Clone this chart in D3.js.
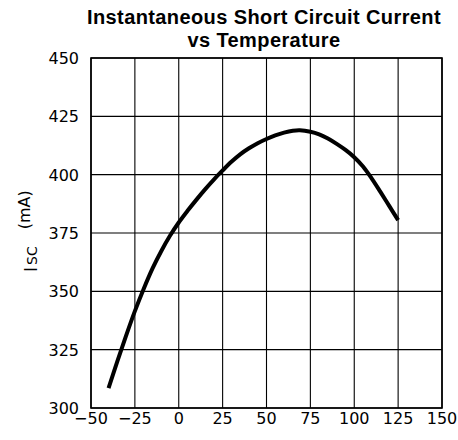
<!DOCTYPE html>
<html>
<head>
<meta charset="utf-8">
<script src="https://cdn.jsdelivr.net/npm/d3@7"></script>
<style>
  html, body { margin: 0; padding: 0; background: #fff; }
  svg { display: block; }
</style>
</head>
<body>
<div id="chart"></div>
<script>
// ---- data ----
const titleLines = ["Instantaneous Short Circuit Current", "vs Temperature"];
const temperature = [-40, -35, -30, -25, -20, -15, -10, -5, 0, 5, 10, 15, 20, 25, 30, 35, 40, 45, 50, 55, 60, 65, 69, 75, 80, 85, 90, 95, 100, 105, 110, 115, 120, 125];
const current =     [308.5, 320, 331, 341.5, 351, 359.7, 367.2, 373.8, 379.5, 384.5, 389.2, 393.7, 397.9, 401.8, 405.5, 408.7, 411.3, 413.5, 415.3, 416.8, 418, 418.8, 419, 418.4, 417.3, 415.5, 413.2, 410.6, 407.5, 403.5, 398.3, 392.5, 386.5, 380.5];
const xTicks = [-50, -25, 0, 25, 50, 75, 100, 125, 150];
const xTickLabels = ["\u221250", "\u221225", "0", "25", "50", "75", "100", "125", "150"];
const yTicks = [300, 325, 350, 375, 400, 425, 450];
const yTickLabels = ["300", "325", "350", "375", "400", "425", "450"];
const yLabelMain = "I";
const yLabelSub = "SC";
const yLabelUnit = "(mA)";

// ---- layout ----
const W = 458, H = 440;
const mLeft = 91, mRight = 442, mTop = 58, mBottom = 408;

const svg = d3.select("#chart").append("svg")
  .attr("width", W).attr("height", H);

const x = d3.scaleLinear().domain([-50, 150]).range([mLeft, mRight]);
const y = d3.scaleLinear().domain([300, 450]).range([mBottom, mTop]);

// grid
svg.append("g").selectAll("line").data(xTicks).join("line")
  .attr("x1", d => x(d)).attr("x2", d => x(d))
  .attr("y1", mTop).attr("y2", mBottom)
  .attr("stroke", "#000").attr("stroke-width", 1.1);
svg.append("g").selectAll("line").data(yTicks).join("line")
  .attr("x1", mLeft).attr("x2", mRight)
  .attr("y1", d => y(d)).attr("y2", d => y(d))
  .attr("stroke", "#000").attr("stroke-width", 1.1);

// frame
svg.append("rect")
  .attr("x", mLeft).attr("y", mTop)
  .attr("width", mRight - mLeft).attr("height", mBottom - mTop)
  .attr("fill", "none").attr("stroke", "#000").attr("stroke-width", 1.6);

// tick labels
const tickFont = "'DejaVu Sans', sans-serif";
svg.append("g").selectAll("text").data(xTicks).join("text")
  .attr("x", d => x(d)).attr("y", 424)
  .attr("text-anchor", "middle")
  .attr("font-family", tickFont).attr("font-size", 16)
  .attr("fill", "#000")
  .text((d, i) => xTickLabels[i]);
svg.append("g").selectAll("text").data(yTicks).join("text")
  .attr("x", 79).attr("y", d => y(d) + 6)
  .attr("text-anchor", "end")
  .attr("font-family", tickFont).attr("font-size", 16)
  .attr("fill", "#000")
  .text((d, i) => yTickLabels[i]);

// y axis label (reads bottom to top)
const yl = svg.append("text")
  .attr("transform", "translate(37,272) rotate(-90)")
  .attr("text-anchor", "start")
  .attr("font-family", tickFont)
  .attr("fill", "#000");
yl.append("tspan").attr("font-size", 17).text(yLabelMain);
yl.append("tspan").attr("font-size", 14).attr("dx", 2).text(yLabelSub);
yl.append("tspan").attr("font-size", 16).attr("dx", 17).attr("dy", -7).text(yLabelUnit);

// title
svg.append("g").selectAll("text").data(titleLines).join("text")
  .attr("x", 264).attr("y", (d, i) => 24 + i * 22.5)
  .attr("text-anchor", "middle")
  .attr("font-family", "'Liberation Sans', Arial, sans-serif")
  .attr("font-weight", "bold").attr("font-size", 20)
  .attr("letter-spacing", 0.4)
  .attr("fill", "#000")
  .text(d => d);

// curve
const line = d3.line()
  .x((d, i) => x(temperature[i]))
  .y((d, i) => y(current[i]))
  .curve(d3.curveCatmullRom.alpha(0.5));
svg.append("path")
  .datum(current)
  .attr("d", line)
  .attr("fill", "none")
  .attr("stroke", "#000")
  .attr("stroke-width", 4);
</script>
</body>
</html>
